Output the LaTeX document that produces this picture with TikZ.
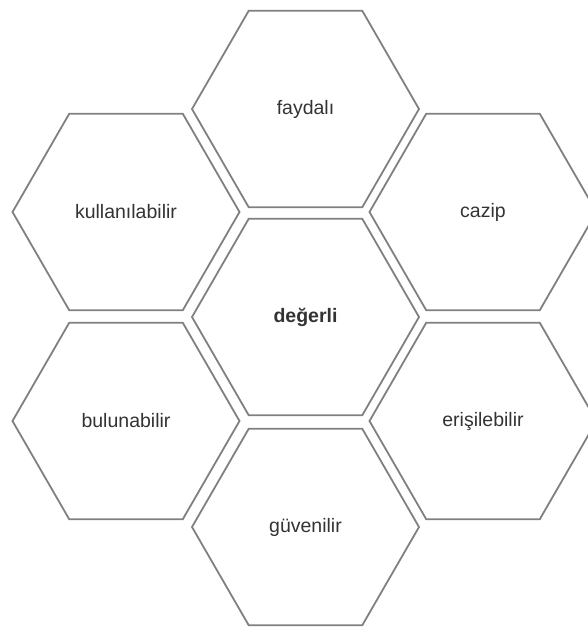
\documentclass[tikz,border=0pt]{standalone}
\usepackage{fontspec}
\setmainfont{Liberation Sans}
\usetikzlibrary{shapes.geometric}
\definecolor{hexLine}{HTML}{808080}
\definecolor{hexText}{HTML}{333333}

\begin{document}
\begin{tikzpicture}[x=1pt,y=-1pt,
hex/.style={regular polygon,regular polygon sides=6,minimum size=227pt,inner sep=0pt,
draw=hexLine,line width=1.8pt,text=hexText,font=\fontsize{19.5}{23}\selectfont}]
\useasboundingbox (0,0) rectangle (588,630);
\node[hex] (faydali) at (305.5,109) {faydalı};
\node[hex] (kullanilabilir) at (126,212) {kullanılabilir};
\node[hex] (cazip) at (483,212) {cazip};
\node[hex,font=\fontsize{19.5}{23}\selectfont\bfseries] (degerli) at (305.5,317) {değerli};
\node[hex] (bulunabilir) at (126,421) {bulunabilir};
\node[hex] (erisilebilir) at (483,421) {erişilebilir};
\node[hex] (guvenilir) at (305.5,527) {güvenilir};
\end{tikzpicture}
\end{document}
